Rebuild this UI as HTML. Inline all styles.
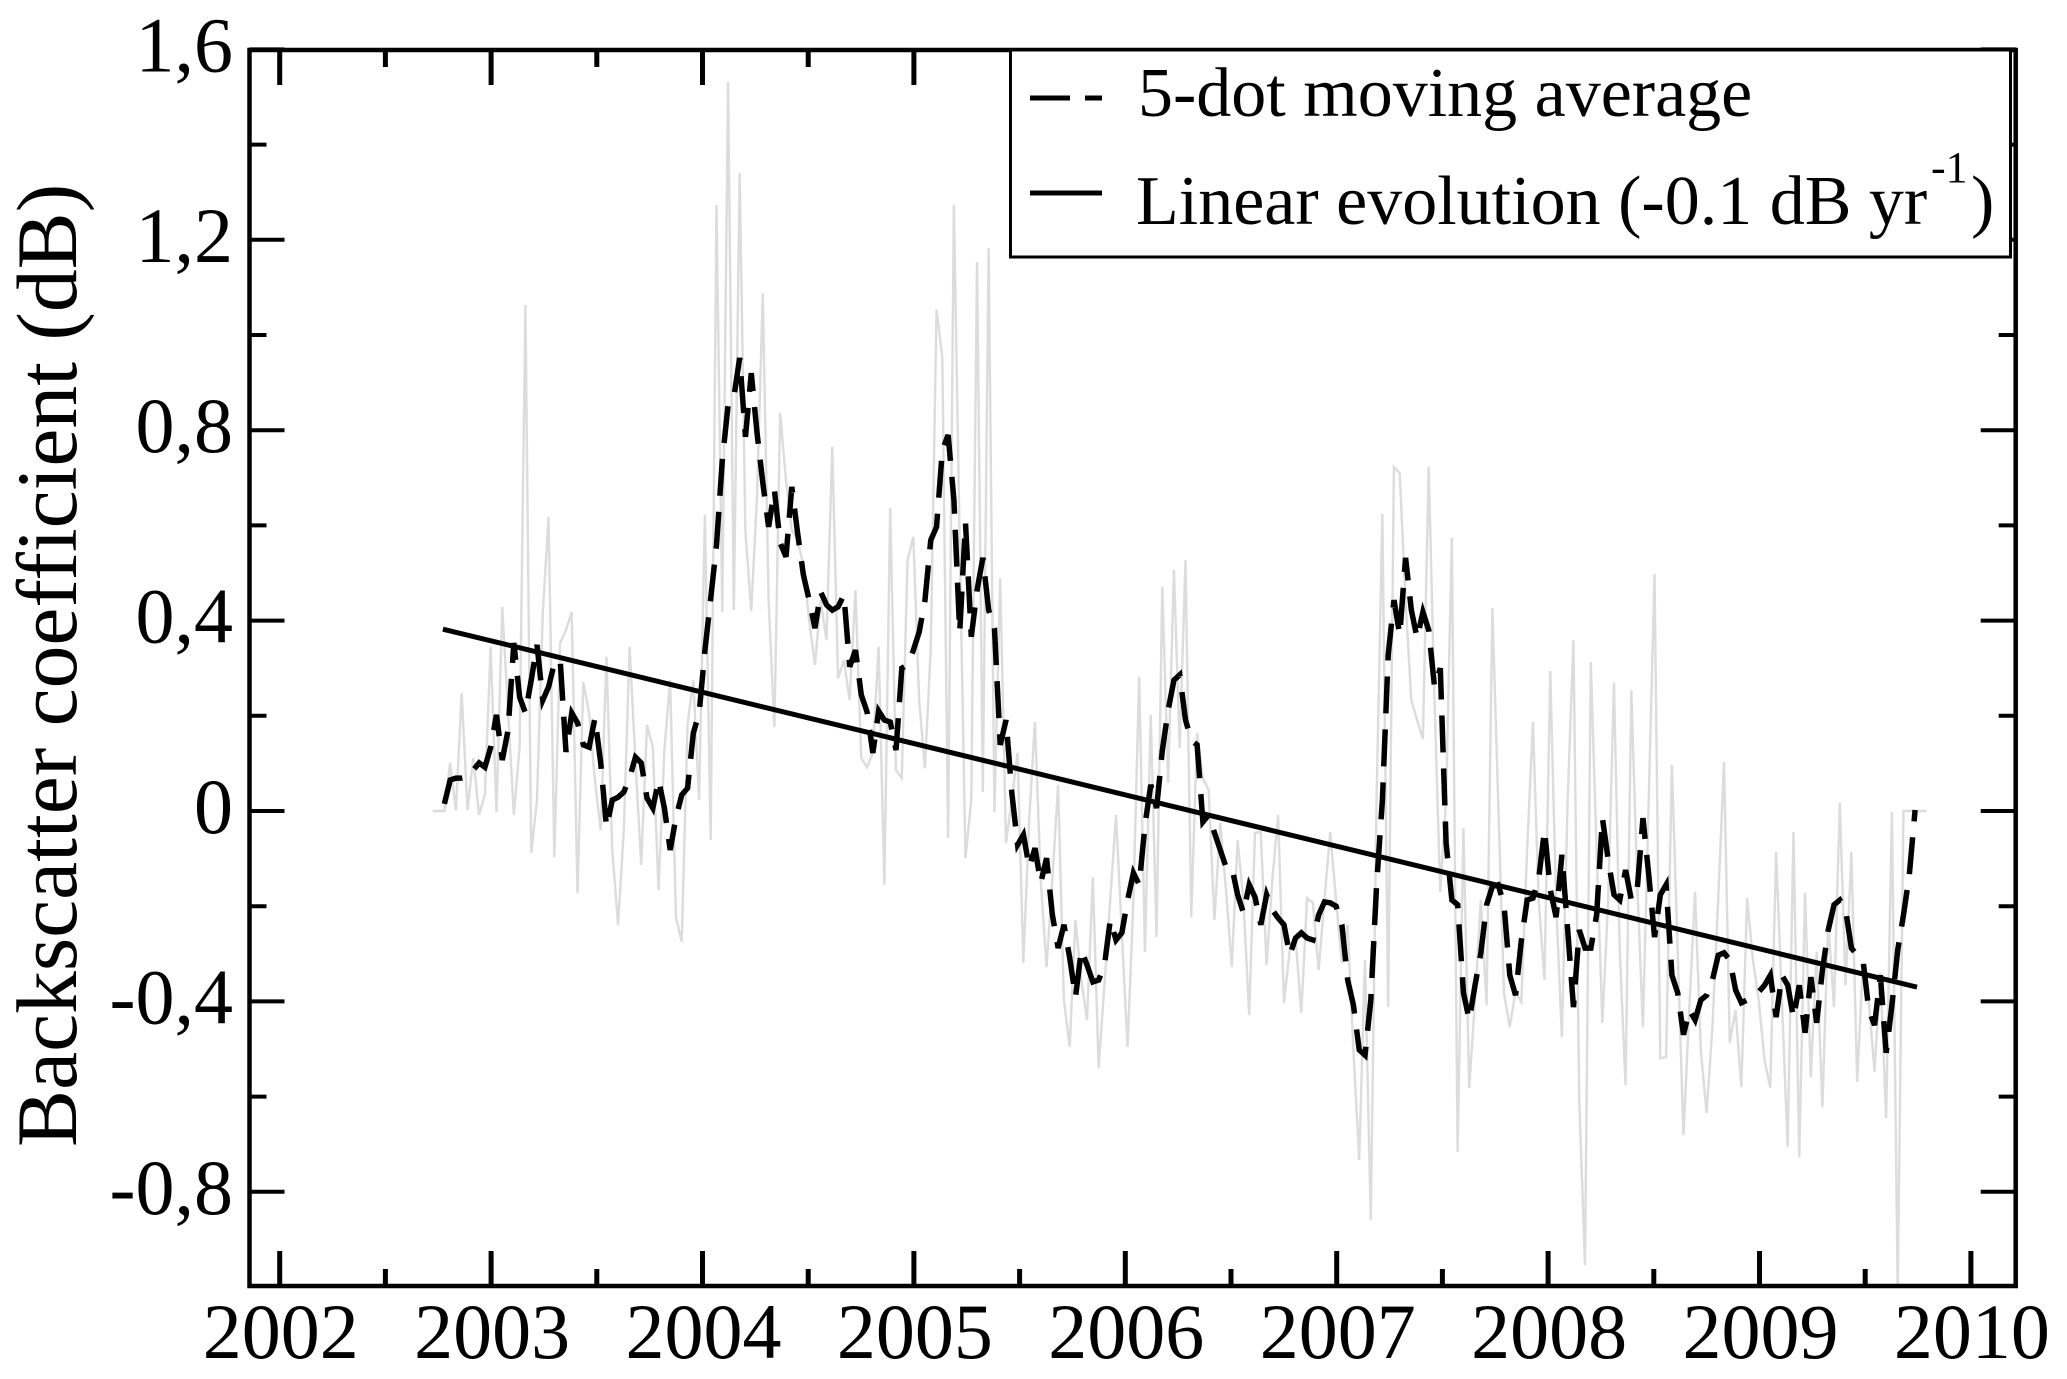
<!DOCTYPE html>
<html lang="en">
<head>
<meta charset="utf-8">
<title>Backscatter coefficient time series</title>
<style>
  html, body { margin: 0; padding: 0; background: #fff; }
  svg { display: block; }
  text { font-family: "Liberation Serif", serif; fill: #000; }
</style>
</head>
<body>
<svg id="chart" xmlns="http://www.w3.org/2000/svg" width="2067" height="1379" viewBox="0 0 2067 1379">
  <rect x="0" y="0" width="2067" height="1379" fill="#fff"/>
  <defs>
    <clipPath id="plot-clip"><rect x="250" y="50" width="1766" height="1237"/></clipPath>
  </defs>
  <g id="series-layer" clip-path="url(#plot-clip)"></g>
  <g id="axis-layer"></g>
  <text transform="translate(76,1147) rotate(-90)" font-size="85.6">Backscatter coefficient (dB)</text>
  <g>
    <rect x="1010.5" y="50" width="1000" height="207" fill="#fff" stroke="#000" stroke-width="3"/>
    <line x1="1030" y1="98" x2="1102" y2="98" stroke="#000" stroke-width="5" stroke-dasharray="40 15"/>
    <text x="1138" y="116" font-size="70">5-dot moving average</text>
    <line x1="1030" y1="193" x2="1102" y2="193" stroke="#000" stroke-width="5"/>
    <text x="1136" y="224" font-size="70">Linear evolution (-0.1 dB yr</text>
    <text x="1931" y="182" font-size="44">-1</text>
    <text x="1971" y="224" font-size="70">)</text>
  </g>
</svg>
<script>
const xTickYears = [2002, 2003, 2004, 2005, 2006, 2007, 2008, 2009, 2010];
const xTickLabels = ['2002', '2003', '2004', '2005', '2006', '2007', '2008', '2009', '2010'];
const yTickValues = [1.6, 1.2, 0.8, 0.4, 0, -0.4, -0.8];
const yTickLabels = ['1,6', '1,2', '0,8', '0,4', '0', '-0,4', '-0,8'];
const yMinorValues = [1.4, 1.0, 0.6, 0.2, -0.2, -0.6];
const xMinorYears = [2002.5, 2003.5, 2004.5, 2005.5, 2006.5, 2007.5, 2008.5, 2009.5];

const rawStartYear = 2002.724;
const rawStepYears = 0.02739;
const rawValues = [
  0,0,0,.101,.002,.248,.002,.111,-.008,.034,
  .345,-.002,.429,.212,-.008,.134,1.063,-.088,.023,.416,
  .618,-.097,.353,.380,.418,-.172,.271,.206,.065,-.040,
  .324,-.082,-.239,-.040,.345,.107,-.113,.181,.134,-.166,
  .128,.275,-.223,-.275,.181,.275,.023,.622,-.061,1.273,
  .418,1.532,.422,1.340,.586,.420,.660,1.088,.443,.176,
  .836,.695,.590,.569,.517,.401,.307,.443,.359,.765,
  .279,.317,.233,.464,.111,.092,.122,.345,-.155,.637,
  .086,.069,.527,.576,.233,.090,.338,1.053,.954,-.057,
  1.273,.569,-.099,.023,1.153,.040,1.183,-.002,.489,-.067,
  .023,.122,-.319,-.019,.187,-.145,-.328,-.145,.055,-.397,
  -.496,-.229,-.355,-.439,-.139,-.540,-.366,-.187,-.008,-.256,
  -.496,-.187,.282,-.296,.202,-.265,.471,.059,.506,.132,
  .527,-.223,.164,.069,.044,-.229,-.025,-.166,-.328,-.061,
  -.187,-.429,-.046,-.044,-.324,-.145,-.008,-.403,-.292,-.265,
  -.424,-.183,-.193,-.334,-.187,-.044,-.187,-.319,-.239,-.502,
  -.733,-.313,-.859,.023,.624,-.412,.723,.710,.443,.233,
  .191,.151,.723,.233,-.170,.023,.574,-.716,-.036,-.582,
  -.397,-.187,-.408,.426,.023,-.382,-.454,-.380,-.401,-.082,
  .187,-.187,-.355,.294,-.187,-.475,.023,.359,-.607,-.954,
  .313,-.082,-.445,-.187,.269,-.292,-.576,.254,-.145,-.454,
  .023,.498,-.519,-.517,.097,-.292,-.681,-.418,-.170,-.502,
  -.634,-.454,-.187,.103,-.487,-.418,-.580,-.183,-.313,-.397,
  -.523,-.582,-.086,-.397,-.706,-.044,-.727,-.172,-.559,-.296,
  -.622,-.229,-.412,.017,-.366,-.086,-.569,-.319,-.397,-.548,
  -.340,-.645,-.002,-1.006,0,0,0,0,0
];

const averageStartYear = 2002.779;
const averageStepYears = 0.02739;
const averageValues = [
  .015,.065,.069,.069,.071,.086,.101,.092,.134,.202,
  .107,.170,.353,.239,.206,.275,.349,.233,.261,.311,
  .317,.124,.206,.185,.139,.134,.195,.101,-.034,.023,
  .029,.040,.071,.113,.101,.027,.006,.065,.006,-.082,
  -.013,.034,.048,.164,.206,.338,.447,.559,.737,.853,
  .870,.952,.786,.920,.794,.689,.597,.674,.563,.534,
  .681,.584,.496,.443,.384,.460,.433,.422,.429,.454,
  .303,.338,.244,.208,.122,.210,.191,.187,.128,.300,
  .307,.338,.376,.443,.569,.597,.758,.790,.653,.376,
  .605,.366,.464,.532,.422,.384,.139,.191,.038,-.071,
  -.050,-.118,-.078,-.151,-.099,-.218,-.288,-.239,-.309,-.391,
  -.292,-.324,-.359,-.355,-.324,-.229,-.271,-.256,-.187,-.130,
  -.155,-.029,.055,.006,.128,.212,.275,.286,.191,.149,
  .139,-.023,-.008,-.046,-.082,-.118,-.118,-.176,-.214,-.155,
  -.181,-.239,-.176,-.208,-.225,-.239,-.303,-.267,-.256,-.267,
  -.271,-.218,-.191,-.193,-.200,-.239,-.355,-.408,-.502,-.513,
  -.397,-.155,.023,.328,.443,.370,.532,.422,.363,.418,
  .380,.261,.300,-.067,-.187,-.197,-.382,-.439,-.366,-.298,
  -.197,-.158,-.155,-.197,-.345,-.387,-.271,-.187,-.183,-.141,
  -.040,-.166,-.223,-.092,-.250,-.412,-.250,-.288,-.288,-.218,
  -.015,-.103,-.176,-.187,-.124,-.187,-.166,-.015,-.134,-.265,
  -.176,-.155,-.345,-.382,-.470,-.418,-.439,-.397,-.387,-.355,
  -.303,-.298,-.313,-.376,-.403,-.397,-.387,-.380,-.366,-.345,
  -.433,-.345,-.366,-.435,-.366,-.466,-.349,-.445,-.334,-.250,
  -.197,-.187,-.208,-.288,-.303,-.313,-.418,-.450,-.345,-.508,
  -.408,-.292,-.218,-.134,.002
];

const trendYears = [2002.772, 2009.745];
const trendValues = [0.382, -0.370];

const NS = 'http://www.w3.org/2000/svg';
const xScale = function (year) { return 279.7 + (year - 2002) * 211.4; };
const yScale = function (value) { return 811 - 476 * value; };
const seriesLayer = document.getElementById('series-layer');
const axisLayer = document.getElementById('axis-layer');

function pathFrom(years, values) {
  let d = '';
  for (let i = 0; i < values.length; i++) {
    d += (i ? 'L' : 'M') + xScale(years(i)).toFixed(2) + ' ' + yScale(values[i]).toFixed(2);
  }
  return d;
}

const rawPath = document.createElementNS(NS, 'path');


rawPath.setAttribute('d', pathFrom(function (i) { return rawStartYear + i * rawStepYears; }, rawValues));
rawPath.setAttribute('fill', 'none');
rawPath.setAttribute('stroke', '#dcdcdc');
rawPath.setAttribute('stroke-width', '2.4');
rawPath.setAttribute('stroke-linejoin', 'miter');
seriesLayer.appendChild(rawPath);

const averagePath = document.createElementNS(NS, 'path');


averagePath.setAttribute('d', pathFrom(function (i) { return averageStartYear + i * averageStepYears; }, averageValues));
averagePath.setAttribute('fill', 'none');
averagePath.setAttribute('stroke', '#000');
averagePath.setAttribute('stroke-width', '5.5');
averagePath.setAttribute('stroke-dasharray', '37 16');
seriesLayer.appendChild(averagePath);

const trendPath = document.createElementNS(NS, 'path');


trendPath.setAttribute('d', pathFrom(function (i) { return trendYears[i]; }, trendValues));
trendPath.setAttribute('fill', 'none');
trendPath.setAttribute('stroke', '#000');
trendPath.setAttribute('stroke-width', '5');
seriesLayer.appendChild(trendPath);

const LEFT = 249.5, RIGHT = 2015.7, TOP = 50, BOTTOM = 1286;

function makeLine(x1, y1, x2, y2, width) {
  const line = document.createElementNS(NS, 'line');
  line.setAttribute('x1', x1);
  line.setAttribute('y1', y1);
  line.setAttribute('x2', x2);
  line.setAttribute('y2', y2);
  line.setAttribute('stroke', '#000');
  line.setAttribute('stroke-width', width);
  axisLayer.appendChild(line);
  return line;
}

const frame = document.createElementNS(NS, 'rect');


frame.setAttribute('x', LEFT);
frame.setAttribute('y', TOP);
frame.setAttribute('width', RIGHT - LEFT);
frame.setAttribute('height', BOTTOM - TOP);
frame.setAttribute('fill', 'none');
frame.setAttribute('stroke', '#000');
frame.setAttribute('stroke-width', '4.5');
axisLayer.appendChild(frame);

xTickYears.forEach(function (year, i) {
  const x = xScale(year);
  const bottomTick = makeLine(x, BOTTOM, x, BOTTOM - 35, 5);
  
  
  const topTick = makeLine(x, TOP, x, TOP + 35, 5);
  
  
  const label = document.createElementNS(NS, 'text');
  
  
  label.setAttribute('x', x + 1);
  label.setAttribute('y', 1358);
  label.setAttribute('font-size', '78');
  label.setAttribute('text-anchor', 'middle');
  label.textContent = xTickLabels[i];
  axisLayer.appendChild(label);
});

xMinorYears.forEach(function (year) {
  const x = xScale(year);
  const bottomTick = makeLine(x, BOTTOM, x, BOTTOM - 17, 5);
  
  
  const topTick = makeLine(x, TOP, x, TOP + 17, 5);
  
  
});

yTickValues.forEach(function (value, i) {
  const y = yScale(value);
  const leftTick = makeLine(LEFT, y, LEFT + 35, y, 4);
  
  
  const rightTick = makeLine(RIGHT, y, RIGHT - 35, y, 4);
  
  
  const label = document.createElementNS(NS, 'text');
  
  
  label.setAttribute('x', 233);
  label.setAttribute('y', y + 22);
  label.setAttribute('font-size', '78');
  label.setAttribute('text-anchor', 'end');
  label.textContent = yTickLabels[i];
  axisLayer.appendChild(label);
});

yMinorValues.forEach(function (value) {
  const y = yScale(value);
  const leftTick = makeLine(LEFT, y, LEFT + 17, y, 4);
  
  
  const rightTick = makeLine(RIGHT, y, RIGHT - 17, y, 4);
  
  
});
</script>
</body>
</html>
